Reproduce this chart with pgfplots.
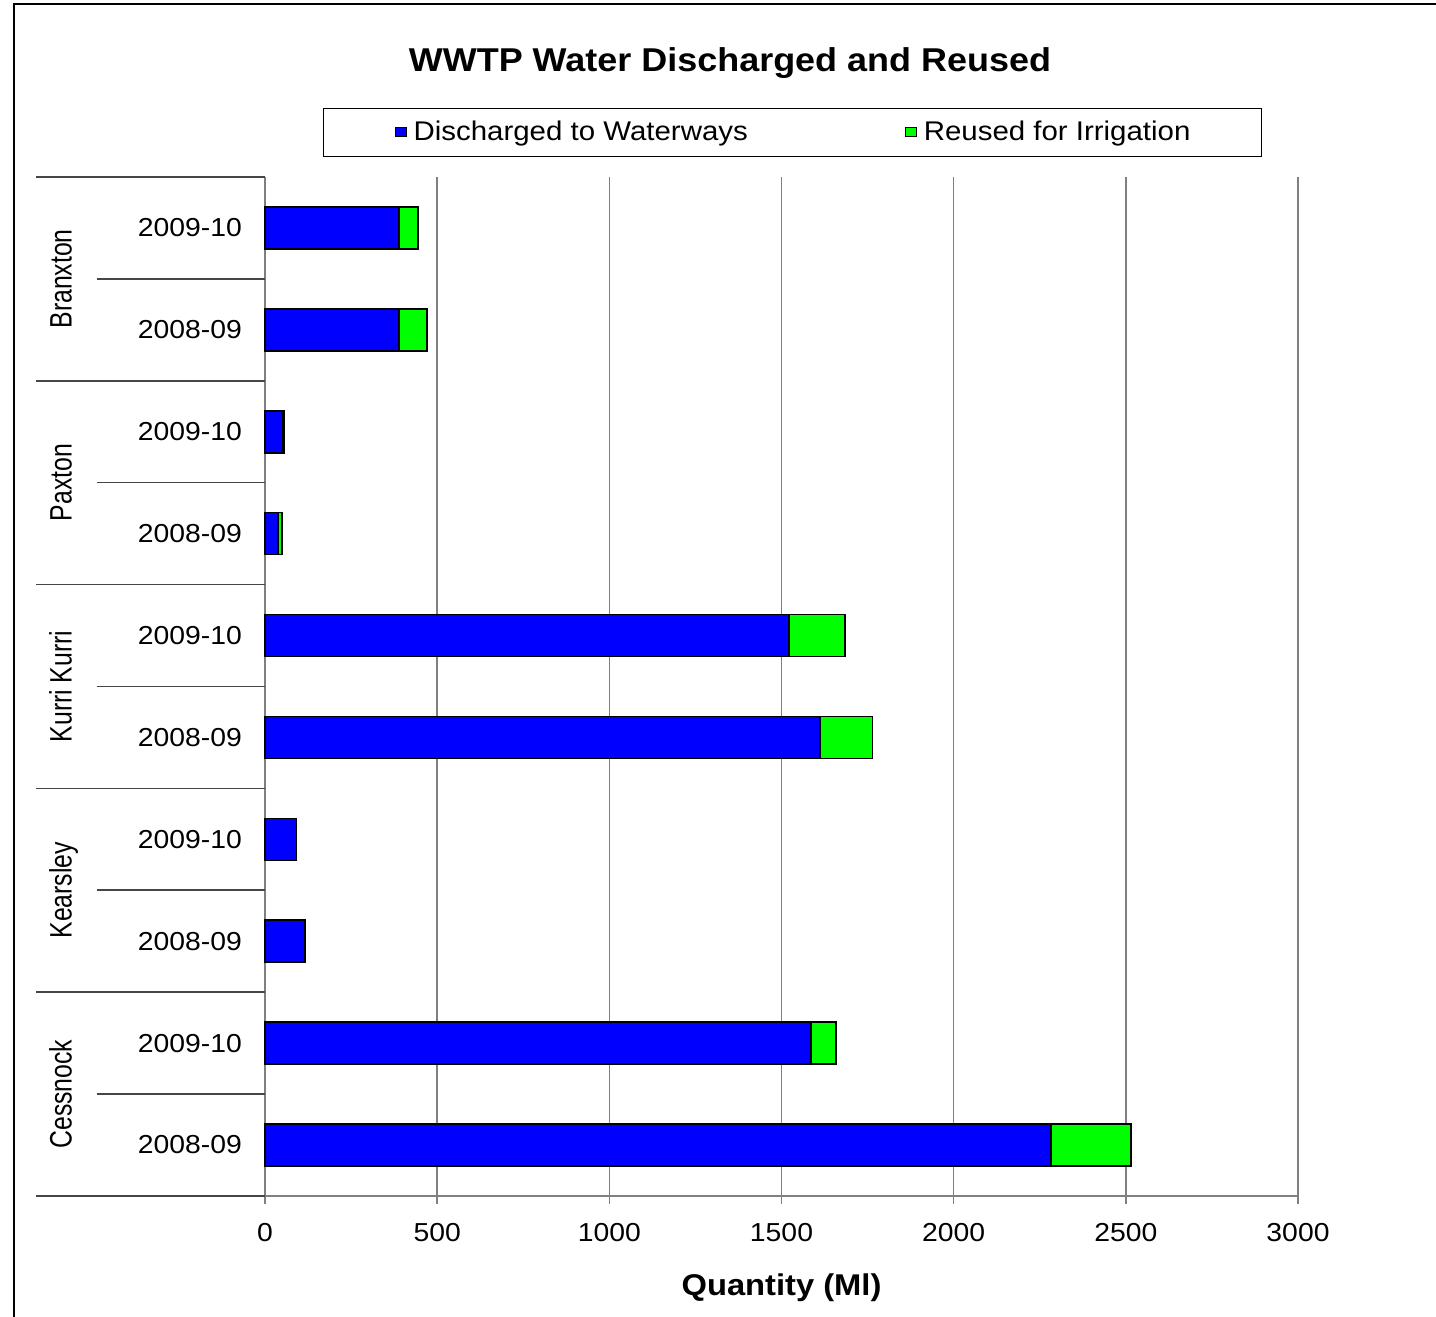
\documentclass[border=0pt]{standalone}
\usepackage{fontspec}
\setmainfont{Liberation Sans}[FakeStretch=1.09]
\newfontfamily\grpfont{Liberation Sans}[FakeStretch=0.8]
\usepackage{pgfplots}
\pgfplotsset{compat=1.18}
\definecolor{disch}{RGB}{0,0,255}
\definecolor{reuse}{RGB}{0,255,0}
\definecolor{gridgray}{RGB}{128,128,128}
\definecolor{sepgray}{RGB}{70,70,70}
\pgfplotsset{sqlegend/.style={legend image code/.code={\draw[##1, line width=0.5pt] (0pt,-2.25pt) rectangle (5.5pt,2.25pt);}}}
\begin{document}
\begin{tikzpicture}
\path[use as bounding box] (0,0) rectangle (718pt,658.5pt);
\draw[line width=0.8pt] (7pt,0) -- (7pt,656.5pt) -- (718pt,656.5pt);
\node[font=\bfseries\fontsize{16.5}{19}\selectfont, anchor=base] at (365pt,622.5pt) {WWTP Water Discharged and Reused};
\begin{axis}[
  at={(132.5pt,60.5pt)}, anchor=south west,
  width=516.5pt, height=509.5pt, scale only axis,
  xbar stacked, bar width=21pt,
  xmin=0, xmax=3000, ymin=-0.5, ymax=9.5,
  xtick={0,500,1000,1500,2000,2500,3000},
  ytick={0,1,2,3,4,5,6,7,8,9},
  yticklabels={2008-09,2009-10,2008-09,2009-10,2008-09,2009-10,2008-09,2009-10,2008-09,2009-10},
  axis x line*=bottom, axis y line*=left,
  xmajorgrids, grid style={gridgray, line width=0.8pt},
  axis line style={gridgray, line width=0.8pt},
  x tick style={gridgray, line width=0.8pt}, tick align=outside, major tick length=4pt,
  y tick style={draw=none},
  ticklabel style={font=\fontsize{13}{15}\selectfont},
  /pgf/number format/assume math mode=true,
  scaled x ticks=false,
  xticklabel style={/pgf/number format/1000 sep={}, yshift=-6pt},
  yticklabel style={xshift=-4pt},
  xlabel={Quantity (Ml)},
  xlabel style={font=\bfseries\fontsize{15}{18}\selectfont, at={(axis description cs:0.5,0)}, anchor=center, yshift=-46pt},
  legend columns=2,
  legend style={at={(axis description cs:0.5107,1.0437)}, anchor=center, draw=black, line width=0.5pt,
    font=\fontsize{13.5}{16}\selectfont, inner xsep=35.5pt, inner ysep=6.5pt,
    nodes={inner sep=0pt}, column sep=3.5pt},
  clip=false,
]
\addplot[fill=disch, draw=black, line width=0.8pt, sqlegend] coordinates {
  (2282,0) (1585,1) (117,2) (91,3) (1612,4) (1521,5) (38,6) (52,7) (390,8) (390,9)};
\addlegendentry{Discharged to Waterways\rule{75pt}{0pt}}
\addplot[fill=reuse, draw=black, line width=0.8pt, sqlegend] coordinates {
  (233,0) (73,1) (0,2) (0,3) (152,4) (164,5) (12,6) (5,7) (80,8) (55,9)};
\addlegendentry{Reused for Irrigation}
\end{axis}
\begin{scope}[sepgray, line width=0.8pt]
\foreach \yy in {60.5,162.4,264.3,366.2,468.1,570} {\draw (18pt,\yy pt) -- (132.5pt,\yy pt);}
\foreach \yy in {111.45,213.35,315.25,417.15,519.05} {\draw (48.35pt,\yy pt) -- (132.5pt,\yy pt);}
\end{scope}
\begin{scope}[every node/.style={rotate=90, anchor=base, font=\grpfont\fontsize{15.5}{18}\selectfont}]
\node at (35.85pt,111.45pt) {Cessnock};
\node at (35.85pt,213.35pt) {Kearsley};
\node at (35.85pt,315.25pt) {Kurri Kurri};
\node at (35.85pt,417.15pt) {Paxton};
\node at (35.85pt,519.05pt) {Branxton};
\end{scope}
\end{tikzpicture}
\end{document}
